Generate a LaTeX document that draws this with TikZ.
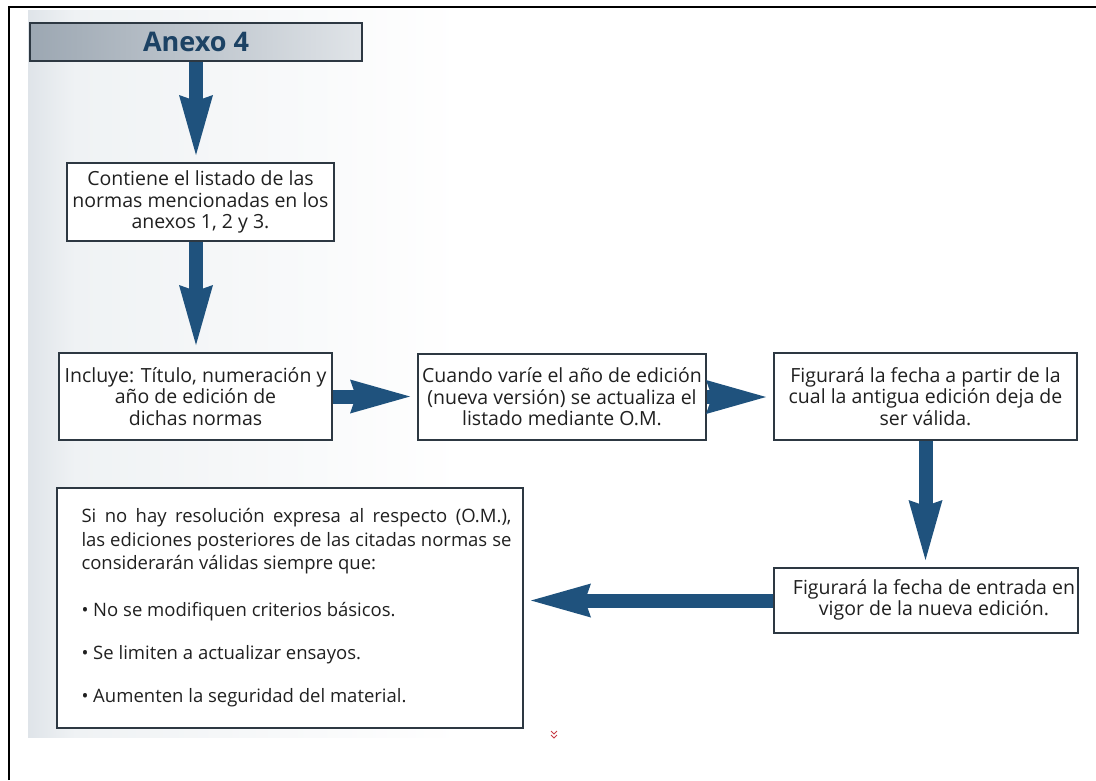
\documentclass[tikz,border=0pt]{standalone}
\usepackage{fontspec}
\setmainfont{Open Sans}
\usetikzlibrary{arrows.meta}

\definecolor{flowblue}{RGB}{31,82,125}
\definecolor{boxline}{RGB}{45,56,66}
\definecolor{inktext}{RGB}{32,32,32}
\definecolor{titleblue}{RGB}{28,66,100}
\definecolor{titlegreyL}{RGB}{156,167,178}
\definecolor{titlegreyR}{RGB}{224,228,232}
\definecolor{pagegrey}{RGB}{223,228,233}
\definecolor{pagegreyb}{RGB}{239,242,244}
\definecolor{markred}{RGB}{200,60,70}

\begin{document}
\begin{tikzpicture}[x=1pt, y=-1pt,
  card/.style={draw=boxline, line width=2pt, fill=white, inner sep=0pt,
    align=center, text=inktext, font=\fontsize{19.5}{21.5}\selectfont},
  flow/.style={draw=flowblue, line width=14pt, shorten >=7pt,
    -{Stealth[length=60pt, width=34pt, inset=6pt, line width=0pt]}}
]
\useasboundingbox (0,0) rectangle (1096,780);

% page background: faint grey band fading to white on the left
\fill[left color=pagegrey, right color=pagegreyb] (28,10) rectangle (75,737);
\fill[left color=pagegreyb, right color=white] (75,10) rectangle (460,737);

% outer frame (top and left rules)
\draw[black, line width=2.2pt] (9,780) -- (9,7) -- (1096,7);

% title bar
\node[draw=boxline, line width=1.8pt, left color=titlegreyL, right color=titlegreyR,
      minimum width=332pt, minimum height=38pt, inner sep=0pt,
      font=\bfseries\fontsize{27}{30}\selectfont, text=titleblue]
  (anexo) at (196,42) {Anexo 4};

% boxes
\node[card, minimum width=267pt, minimum height=78pt] (listado) at (200.5,202)
  {Contiene el listado de las\\normas mencionadas en los\\anexos 1, 2 y 3.};

\node[card, minimum width=273pt, minimum height=87pt] (incluye) at (195.5,396.5)
  {Incluye: Título, numeración y\\año de edición de\\dichas normas};

\node[card, minimum width=288pt, minimum height=86pt] (cuando) at (562,397)
  {Cuando varíe el año de edición\\(nueva versión) se actualiza el\\listado mediante O.M.};

\node[card, minimum width=303pt, minimum height=87pt] (partir) at (925.5,396.5)
  {Figurará la fecha a partir de la\\cual la antigua edición deja de\\ser válida.};

\node[card, minimum width=304pt, minimum height=65pt] (vigor) at (926,600.5)
  {\hspace*{16pt}\begin{tabular}{@{}c@{}}Figurará la fecha de entrada en\\vigor de la nueva edición.\end{tabular}};

\node[card, minimum width=466pt, minimum height=240pt] (siempre) at (290,608) {};
\node[inner sep=0pt, align=left, text=inktext, font=\fontsize{18.5}{23.5}\selectfont]
  (criterios) at (296.5,608)
  {\makebox[430pt][s]{Si no hay resolución expresa al respecto (O.M.),}\\
   \makebox[430pt][s]{las ediciones posteriores de las citadas normas se}\\
   considerarán válidas siempre que:\\[23.5pt]
   \textbullet\ No se modifiquen criterios básicos.\\[19.5pt]
   \textbullet\ Se limiten a actualizar ensayos.\\[19.5pt]
   \textbullet\ Aumenten la seguridad del material.};

% flow arrows
\draw[flow] (anexo.south) -- (anexo.south |- listado.north);
\draw[flow] (anexo.south |- listado.south) -- (anexo.south |- incluye.north);
\draw[flow] (incluye.east) -- (incluye.east -| cuando.west);
\draw[flow] (cuando.east) -- (cuando.east -| partir.west);
\draw[flow] (partir.south) -- (partir.south |- vigor.north);
\draw[flow] (vigor.west) -- (vigor.west -| siempre.east);

% small red print mark below the lower box
\draw[markred, line width=0.9pt] (551,731) -- (554,734) -- (557,731)
                                 (551,735) -- (554,738) -- (557,735);
\end{tikzpicture}
\end{document}
